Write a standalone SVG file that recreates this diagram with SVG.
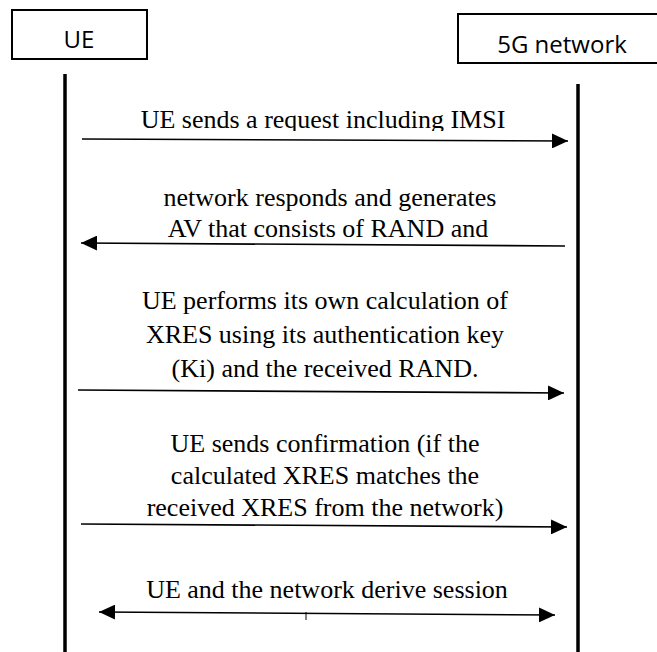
<svg xmlns="http://www.w3.org/2000/svg" width="657" height="652" viewBox="0 0 657 652">
<style>
.box{fill:#fff;stroke:#000;stroke-width:2}
.life{stroke:#000;stroke-width:3.5}
.msg{stroke:#000;stroke-width:1.6;fill:none}
.hd{font-family:"Open Sans","Liberation Sans",sans-serif;font-size:24px;fill:#000}
.lb{font-family:"Liberation Serif","Times New Roman",serif;font-size:26px;fill:#000;text-anchor:middle}
</style>
<defs>
<marker id="ah" viewBox="0 0 16 15" refX="16" refY="7.5" markerWidth="16" markerHeight="15" markerUnits="userSpaceOnUse" orient="auto-start-reverse">
<path d="M0,0 L16,7.5 L0,15 Z" fill="#000"/>
</marker>
<clipPath id="c1"><rect x="0" y="90" width="657" height="41"/></clipPath>
</defs>
<g id="node-ue">
<rect class="box" x="12" y="10" width="135" height="49"/>
<text class="hd" x="79" y="48" text-anchor="middle">UE</text>
</g>
<g id="node-5g">
<rect class="box" x="458" y="14" width="205" height="49"/>
<text class="hd" x="562" y="53" text-anchor="middle">5G network</text>
</g>
<g id="lifelines">
<line class="life" x1="65" y1="74" x2="65" y2="652"/>
<line class="life" x1="578" y1="84" x2="578" y2="652"/>
</g>
<g id="connectors">
<line class="msg" x1="82" y1="139" x2="568" y2="141" marker-end="url(#ah)"/>
<line class="msg" x1="565" y1="246" x2="81" y2="243" marker-end="url(#ah)"/>
<line class="msg" x1="78" y1="390" x2="564" y2="393" marker-end="url(#ah)"/>
<line class="msg" x1="81" y1="524" x2="567" y2="527" marker-end="url(#ah)"/>
<line class="msg" x1="99" y1="612" x2="555" y2="615" marker-start="url(#ah)" marker-end="url(#ah)"/>
<line stroke="#000" stroke-width="1" x1="306" y1="612" x2="306" y2="620"/>
</g>
<g id="labels">
<text class="lb" x="323" y="128" clip-path="url(#c1)">UE sends a request including IMSI</text>
<text class="lb" x="330" y="206">network responds and generates</text>
<text class="lb" x="328" y="237">AV that consists of RAND and</text>
<text class="lb" x="325" y="309">UE performs its own calculation of</text>
<text class="lb" x="325" y="343">XRES using its authentication key</text>
<text class="lb" x="325" y="377">(Ki) and the received RAND.</text>
<text class="lb" x="325" y="452">UE sends confirmation (if the</text>
<text class="lb" x="325" y="484">calculated XRES matches the</text>
<text class="lb" x="325" y="516">received XRES from the network)</text>
<text class="lb" x="327" y="598">UE and the network derive session</text>
</g>
</svg>
